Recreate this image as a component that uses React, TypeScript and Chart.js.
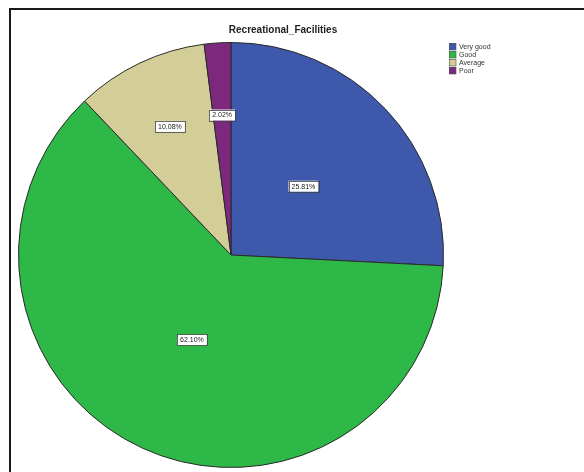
import React, { useEffect, useRef } from "react";
import { Chart, registerables } from "chart.js";

Chart.register(...registerables);

const TITLE = "Recreational_Facilities";
const categories = ["Very good", "Good", "Average", "Poor"];
const percentValues = [25.81, 62.1, 10.08, 2.02];
const sliceColors = ["#3E58AC", "#2EB848", "#D3CE97", "#7C287D"];
const labelRadiusFractions = [0.47, 0.44, 0.67, 0.66];

const decorPlugin = {
  id: "decor",
  afterDraw(chart: any) {
    const ctx = chart.ctx as CanvasRenderingContext2D;
    ctx.save();
    // frame
    ctx.fillStyle = "#1a1a1a";
    ctx.fillRect(9, 8, 575, 2);
    ctx.fillRect(9, 8, 2, 464);
    // title
    ctx.fillStyle = "#222";
    ctx.font = "bold 10px Arial, 'Liberation Sans', sans-serif";
    ctx.textAlign = "center";
    ctx.textBaseline = "middle";
    ctx.fillText(TITLE, 283, 30);
    // legend
    ctx.font = "7px Arial, 'Liberation Sans', sans-serif";
    ctx.textAlign = "left";
    categories.forEach((c, i) => {
      const y = 43 + i * 8;
      ctx.fillStyle = sliceColors[i];
      ctx.fillRect(449, y, 7, 7);
      ctx.strokeStyle = "#555";
      ctx.lineWidth = 0.6;
      ctx.strokeRect(449.5, y + 0.5, 6.5, 6.5);
      ctx.fillStyle = "#333";
      ctx.fillText(c, 459, y + 4);
    });
    // value labels
    const meta = chart.getDatasetMeta(0);
    ctx.font = "7px Arial, 'Liberation Sans', sans-serif";
    ctx.textAlign = "center";
    meta.data.forEach((arc: any, i: number) => {
      const p = arc.getProps(["x", "y", "startAngle", "endAngle", "outerRadius"], true);
      const mid = (p.startAngle + p.endAngle) / 2;
      const r = p.outerRadius * labelRadiusFractions[i];
      const x = p.x + Math.cos(mid) * r;
      const y = p.y + Math.sin(mid) * r;
      const text = percentValues[i].toFixed(2) + "%";
      const w = ctx.measureText(text).width + 6;
      const h = 11;
      ctx.fillStyle = "#ffffff";
      ctx.fillRect(x - w / 2, y - h / 2, w, h);
      ctx.strokeStyle = "#444";
      ctx.lineWidth = 0.8;
      ctx.strokeRect(Math.round(x - w / 2) + 0.5, Math.round(y - h / 2) + 0.5, Math.round(w), h);
      ctx.fillStyle = "#222";
      ctx.fillText(text, x, y + 0.5);
    });
    ctx.restore();
  },
};

export default function App() {
  const ref = useRef<HTMLCanvasElement | null>(null);
  useEffect(() => {
    if (!ref.current) return;
    const chart = new Chart(ref.current, {
      type: "pie",
      data: {
        labels: categories,
        datasets: [
          {
            data: percentValues,
            backgroundColor: sliceColors,
            borderColor: "#2a2a2a",
            borderWidth: 1,
          },
        ],
      },
      options: {
        animation: false,
        responsive: false,
        layout: { padding: { left: 18, right: 140, top: 42, bottom: 4 } },
        plugins: {
          legend: { display: false },
          title: { display: false },
          tooltip: { enabled: false },
        },
      },
      plugins: [decorPlugin],
    });
    return () => chart.destroy();
  }, []);
  return (
    <div style={{ position: "fixed", left: 0, top: 0, width: 584, height: 472, background: "#fff" }}>
      <canvas ref={ref} width={584} height={472} style={{ display: "block" }} />
    </div>
  );
}
